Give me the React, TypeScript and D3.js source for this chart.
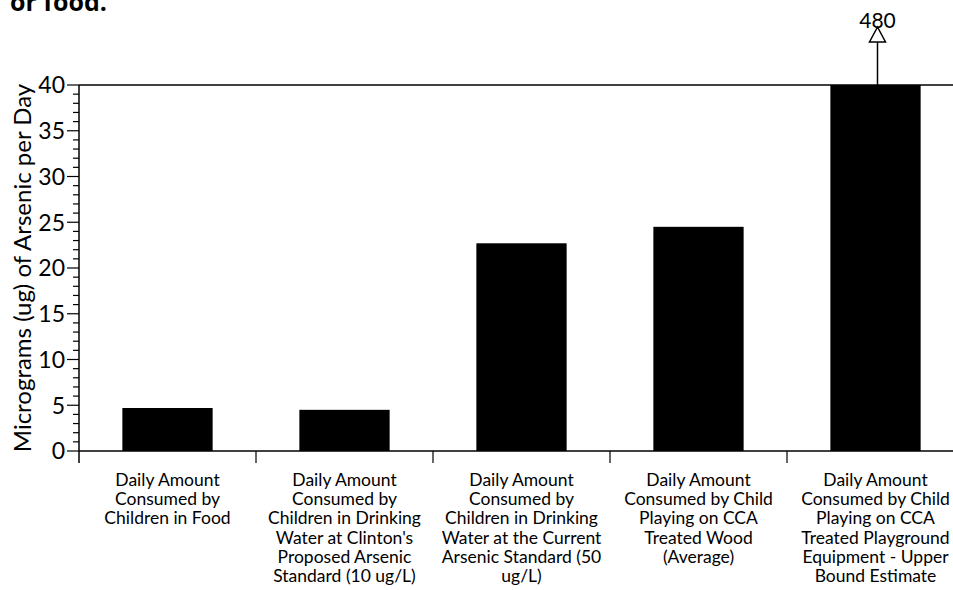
import React, { useRef, useEffect } from "react"
import * as d3 from "d3"

// category labels, one array of lines each
const categories: string[][] = [
    ["Daily Amount", "Consumed by", "Children in Food"],
    ["Daily Amount", "Consumed by", "Children in Drinking", "Water at Clinton's", "Proposed Arsenic", "Standard (10 ug/L)"],
    ["Daily Amount", "Consumed by", "Children in Drinking", "Water at the Current", "Arsenic Standard (50", "ug/L)"],
    ["Daily Amount", "Consumed by Child", "Playing on CCA", "Treated Wood", "(Average)"],
    ["Daily Amount", "Consumed by Child", "Playing on CCA", "Treated Playground", "Equipment - Upper", "Bound Estimate"],
]
const values = [4.7, 4.5, 22.7, 24.5, 480]
const yTicks = [0, 5, 10, 15, 20, 25, 30, 35, 40]
const yMaxShown = 40

export default function App() {
    const svgRef = useRef<SVGSVGElement>(null)

    useEffect(() => {
        if (!svgRef.current) return
        const svg = d3.select(svgRef.current)
        svg.selectAll("*").remove()

        const height = 590
        const margin = { top: 85, left: 79, bottom: 139 }
        const plotRight = 964 // the original plot runs past the picture's edge
        const font = "Lato, 'Open Sans', sans-serif"

        const ids = categories.map((_, i) => String(i))
        const x = d3.scaleBand<string>()
            .domain(ids)
            .range([margin.left, plotRight])
            .paddingInner(0.49)
            .paddingOuter(0.245)

        const y = d3.scaleLinear()
            .domain([0, yMaxShown])
            .range([height - margin.bottom, margin.top])

        // title fragment, cut at the top in the original
        svg.append("text")
            .attr("x", 10)
            .attr("y", 11)
            .attr("font-family", "'Open Sans', sans-serif")
            .attr("font-weight", "bold")
            .attr("font-size", 25)
            .text("or food.")

        // bars (clipped at the top of the scale)
        svg.append("g")
            .selectAll("rect")
            .data(values)
            .join("rect")
            .attr("x", (_, i) => x(ids[i])!)
            .attr("width", x.bandwidth())
            .attr("y", d => y(Math.min(d, yMaxShown)))
            .attr("height", d => y(0) - y(Math.min(d, yMaxShown)))
            .attr("fill", "#000")

        // top frame line and baseline
        svg.append("line")
            .attr("x1", margin.left).attr("x2", plotRight)
            .attr("y1", y(yMaxShown)).attr("y2", y(yMaxShown))
            .attr("stroke", "#000").attr("stroke-width", 1.5)
        svg.append("line")
            .attr("x1", margin.left).attr("x2", plotRight)
            .attr("y1", y(0)).attr("y2", y(0))
            .attr("stroke", "#000").attr("stroke-width", 1.5)

        // y axis
        const yAxis = svg.append("g")
        yAxis.append("line")
            .attr("x1", margin.left).attr("x2", margin.left)
            .attr("y1", y(yMaxShown)).attr("y2", y(0) + 12)
            .attr("stroke", "#000").attr("stroke-width", 1.5)
        const minor = d3.range(0, yMaxShown + 1).filter(v => v % 5 !== 0)
        yAxis.selectAll("line.minor")
            .data(minor)
            .join("line")
            .attr("class", "minor")
            .attr("x1", margin.left - 6).attr("x2", margin.left)
            .attr("y1", d => y(d)).attr("y2", d => y(d))
            .attr("stroke", "#000").attr("stroke-width", 1.2)
        yAxis.selectAll("line.major")
            .data(yTicks)
            .join("line")
            .attr("class", "major")
            .attr("x1", margin.left - 12).attr("x2", margin.left)
            .attr("y1", d => y(d)).attr("y2", d => y(d))
            .attr("stroke", "#000").attr("stroke-width", 1.2)
        yAxis.selectAll("text")
            .data(yTicks)
            .join("text")
            .attr("x", margin.left - 14)
            .attr("y", d => y(d))
            .attr("dy", "0.36em")
            .attr("text-anchor", "end")
            .attr("font-family", font)
            .attr("font-size", 23)
            .text(d => d)

        svg.append("text")
            .attr("transform", `translate(31,${(y(0) + y(yMaxShown)) / 2}) rotate(-90)`)
            .attr("text-anchor", "middle")
            .attr("font-family", font)
            .attr("font-size", 24)
            .text("Micrograms (ug) of Arsenic per Day")

        // x ticks at category boundaries
        const step = x.step()
        svg.append("g")
            .selectAll("line")
            .data(ids.slice(1))
            .join("line")
            .attr("x1", d => x(d)! - step * 0.245)
            .attr("x2", d => x(d)! - step * 0.245)
            .attr("y1", y(0)).attr("y2", y(0) + 12)
            .attr("stroke", "#000").attr("stroke-width", 1.2)

        // category labels
        const labels = svg.append("g")
        categories.forEach((lines, i) => {
            const cx = x(ids[i])! + x.bandwidth() / 2
            const t = labels.append("text")
                .attr("text-anchor", "middle")
                .attr("font-family", font)
                .attr("font-size", 17.5)
            lines.forEach((ln, j) => {
                t.append("tspan")
                    .attr("x", cx)
                    .attr("y", y(0) + 35 + j * 19.2)
                    .text(ln)
            })
        })

        // off-scale arrow for the last bar
        values.forEach((v, i) => {
            if (v <= yMaxShown) return
            const cx = x(ids[i])! + x.bandwidth() / 2 + 2
            const top = y(yMaxShown)
            svg.append("line")
                .attr("x1", cx).attr("x2", cx)
                .attr("y1", top).attr("y2", top - 43)
                .attr("stroke", "#000").attr("stroke-width", 1.5)
            svg.append("text")
                .attr("x", cx)
                .attr("y", top - 57)
                .attr("text-anchor", "middle")
                .attr("font-family", font)
                .attr("font-size", 21)
                .text(v)
            svg.append("path")
                .attr("d", `M${cx},${top - 58}L${cx - 8},${top - 43}L${cx + 8},${top - 43}Z`)
                .attr("fill", "#fff")
                .attr("stroke", "#000")
                .attr("stroke-width", 1.5)
        })
    }, [])

    return (
        <svg ref={svgRef} width={953} height={590}
            style={{ position: "absolute", left: 0, top: 0, background: "#fff" }} />
    )
}
